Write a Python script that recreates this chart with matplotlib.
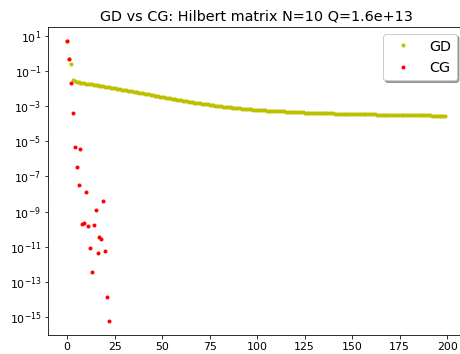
import numpy as np
import matplotlib
matplotlib.use('Agg')
import matplotlib.pyplot as plt
from matplotlib.ticker import FixedLocator, NullLocator

# residual norms, stored as log10 exponents
cg_exp = [0.74, -0.31, -1.70, -3.38, -5.32, -6.44, -7.48, -5.44, -9.72, -9.63,
          -7.86, -9.81, -11.10, -12.43, -9.76, -8.92, -11.35, -10.45, -10.59, -8.39,
          -11.23, -13.85, -15.25]

gd_exp = [0.74, -0.31, -0.62, -1.50, -1.55, -1.60, -1.63, -1.65, -1.67, -1.69,
          -1.71, -1.73, -1.74, -1.76, -1.78, -1.79, -1.81, -1.83, -1.85, -1.86,
          -1.88, -1.90, -1.92, -1.94, -1.96, -1.98, -2.00, -2.01, -2.03, -2.05,
          -2.07, -2.09, -2.11, -2.13, -2.15, -2.17, -2.19, -2.21, -2.23, -2.25,
          -2.27, -2.29, -2.31, -2.33, -2.35, -2.37, -2.39, -2.41, -2.43, -2.45,
          -2.47, -2.49, -2.51, -2.53, -2.55, -2.57, -2.58, -2.60, -2.62, -2.64,
          -2.66, -2.68, -2.70, -2.72, -2.74, -2.76, -2.77, -2.79, -2.81, -2.83,
          -2.84, -2.86, -2.87, -2.89, -2.90, -2.92, -2.93, -2.95, -2.96, -2.98,
          -2.99, -3.00, -3.02, -3.03, -3.04, -3.05, -3.07, -3.08, -3.09, -3.10,
          -3.11, -3.12, -3.13, -3.14, -3.15, -3.16, -3.17, -3.18, -3.19, -3.20,
          -3.21, -3.22, -3.22, -3.23, -3.24, -3.25, -3.25, -3.26, -3.27, -3.27,
          -3.28, -3.29, -3.29, -3.30, -3.30, -3.31, -3.31, -3.32, -3.32, -3.33,
          -3.33, -3.34, -3.34, -3.35, -3.35, -3.36, -3.36, -3.36, -3.37, -3.37,
          -3.38, -3.38, -3.38, -3.39, -3.39, -3.40, -3.40, -3.40, -3.41, -3.41,
          -3.41, -3.42, -3.42, -3.42, -3.43, -3.43, -3.43, -3.44, -3.44, -3.44,
          -3.44, -3.45, -3.45, -3.45, -3.45, -3.46, -3.46, -3.46, -3.46, -3.47,
          -3.47, -3.47, -3.47, -3.48, -3.48, -3.48, -3.48, -3.48, -3.49, -3.49,
          -3.49, -3.49, -3.49, -3.50, -3.50, -3.50, -3.50, -3.50, -3.50, -3.51,
          -3.51, -3.51, -3.51, -3.51, -3.51, -3.52, -3.52, -3.52, -3.52, -3.52,
          -3.52, -3.52, -3.53, -3.53, -3.53, -3.53, -3.53, -3.53, -3.53, -3.53]

gd = 10.0 ** np.array(gd_exp)
cg = 10.0 ** np.array(cg_exp)

fig = plt.figure(figsize=(460 / 72, 354 / 72), dpi=72)
ax = fig.add_axes([0.105, 0.053, 0.904, 0.872])

ax.semilogy(np.arange(len(gd)), gd, 'y.', label='GD')
ax.semilogy(np.arange(len(cg)), cg, 'r.', label='CG')

ax.yaxis.set_major_locator(FixedLocator([10.0 ** k for k in range(-15, 2, 2)]))
ax.yaxis.set_minor_locator(NullLocator())
ax.tick_params(labelsize=11)

ax.set_title('GD vs CG: Hilbert matrix N=10 Q=1.6e+13', fontsize='x-large')
ax.legend(loc='upper right', shadow=True, fancybox=True, fontsize='x-large')

fig.savefig('out.png', dpi=72)
